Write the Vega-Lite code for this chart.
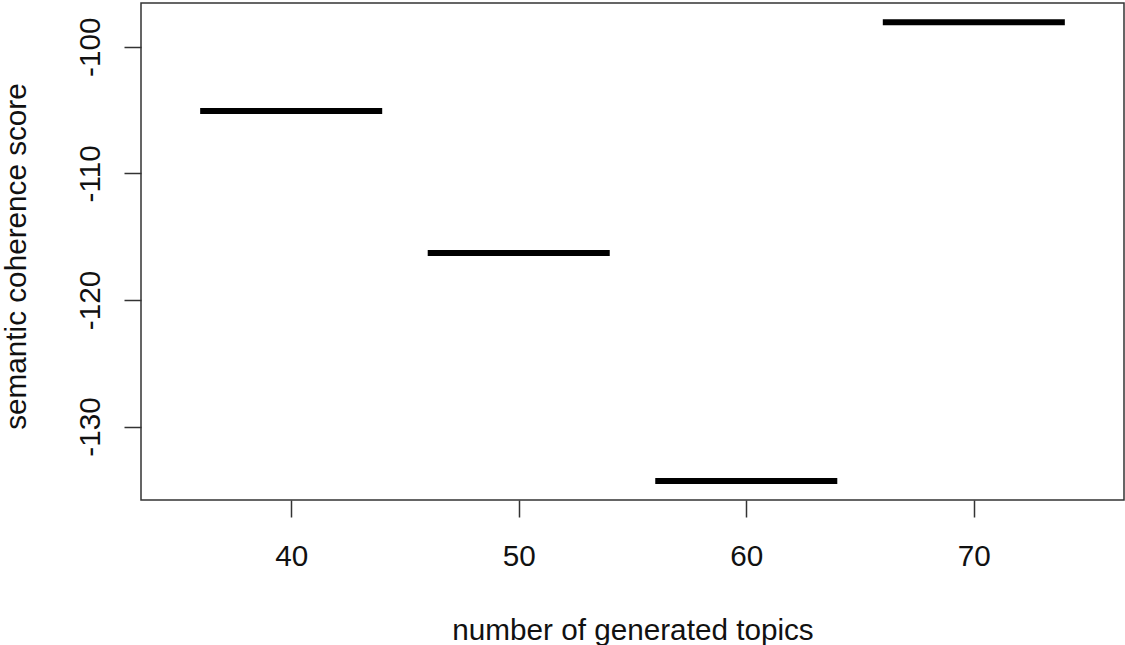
{
  "$schema": "https://vega.github.io/schema/vega-lite/v6.json",
  "autosize": {"type": "none"},
  "width": 983,
  "height": 497,
  "padding": {"left": 141, "top": 3, "right": 1, "bottom": 145},
  "background": "white",
  "config": {
    "view": {"stroke": "#333333", "strokeWidth": 1.5},
    "axis": {
      "domain": false,
      "grid": false,
      "ticks": true,
      "tickSize": 17,
      "tickColor": "#333333",
      "tickWidth": 1.5,
      "labelFont": "Liberation Sans",
      "labelFontSize": 29.7,
      "labelColor": "#111111",
      "titleFont": "Liberation Sans",
      "titleFontSize": 29.7,
      "titleFontWeight": "normal",
      "titleColor": "#111111"
    }
  },
  "data": {
    "values": [
      {"topics": 40, "start": 36, "end": 44, "score": -105.08},
      {"topics": 50, "start": 46, "end": 54, "score": -116.3},
      {"topics": 60, "start": 56, "end": 64, "score": -134.3},
      {"topics": 70, "start": 66, "end": 74, "score": -98.07}
    ]
  },
  "mark": {"type": "rule", "color": "black", "strokeWidth": 6, "strokeCap": "butt"},
  "encoding": {
    "x": {
      "field": "start",
      "type": "quantitative",
      "scale": {"domain": [33.4, 76.6], "nice": false, "zero": false},
      "axis": {
        "values": [40, 50, 60, 70],
        "title": "number of generated topics",
        "labelBaseline": "alphabetic",
        "labelPadding": 48,
        "titleBaseline": "alphabetic",
        "titleY": 139
      }
    },
    "x2": {"field": "end"},
    "y": {
      "field": "score",
      "type": "quantitative",
      "scale": {"domain": [-135.8, -96.55], "nice": false, "zero": false},
      "axis": {
        "values": [-130, -120, -110, -100],
        "title": "semantic coherence score",
        "labelExpr": "datum.value < 0 ? '-' + abs(datum.value) : '' + datum.value",
        "labelAngle": -90,
        "labelAlign": "center",
        "labelBaseline": "alphabetic",
        "labelPadding": 25,
        "titleAngle": -90,
        "titleBaseline": "alphabetic",
        "titleAlign": "center",
        "titleX": -116,
        "titleY": 253
      }
    }
  }
}
